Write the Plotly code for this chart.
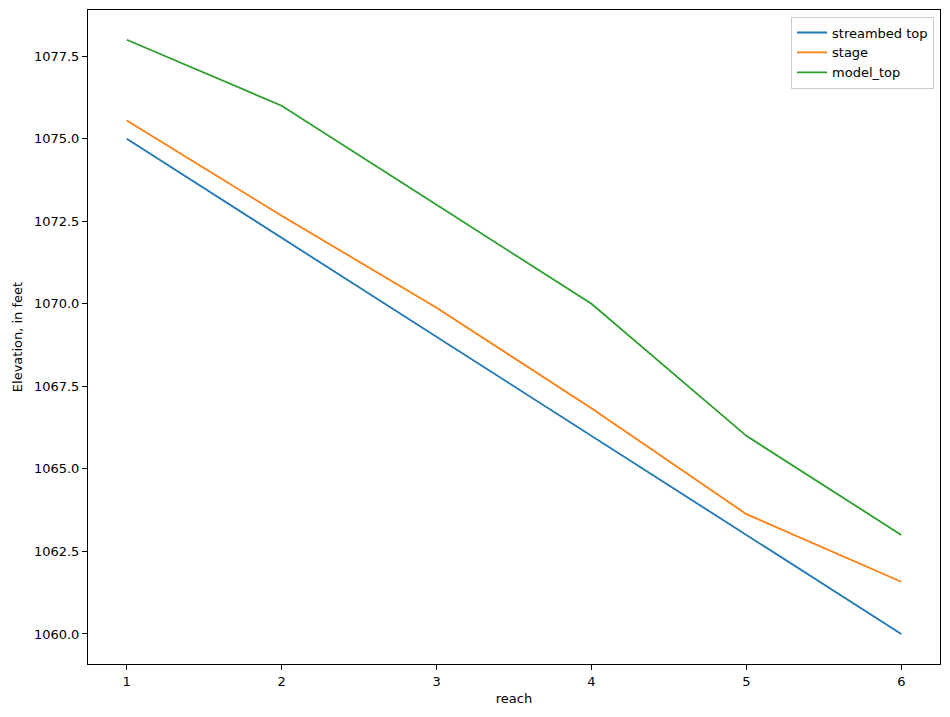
import plotly.graph_objects as go

reach = [1, 2, 3, 4, 5, 6]
streambed_top = [1075.0, 1072.0, 1069.0, 1066.0, 1063.0, 1060.0]
stage = [1075.55, 1072.67, 1069.88, 1066.84, 1063.63, 1061.58]
model_top = [1078.0, 1076.0, 1073.0, 1070.0, 1066.0, 1063.0]
y_ticks = [1060, 1062.5, 1065, 1067.5, 1070, 1072.5, 1075, 1077.5]
y_ticklabels = ["1060.0", "1062.5", "1065.0", "1067.5", "1070.0", "1072.5", "1075.0", "1077.5"]

series = [("streambed top", streambed_top, "#1f77b4"),
          ("stage", stage, "#ff7f0e"),
          ("model_top", model_top, "#2ca02c")]

fig = go.Figure()
for name, vals, color in series:
    fig.add_trace(go.Scatter(x=reach, y=vals, mode="lines", name=name,
                             line=dict(color=color, width=1.8)))

axis_common = dict(showline=True, linecolor="black", linewidth=1, mirror=True,
                   ticks="outside", ticklen=5, tickcolor="black", showgrid=False,
                   zeroline=False, tickfont=dict(size=13, color="black"))

fig.update_layout(
    width=934, height=701,
    margin=dict(l=80, r=2, t=2, b=45),
    paper_bgcolor="white", plot_bgcolor="white",
    font=dict(family="DejaVu Sans", size=13, color="black"),
    xaxis=dict(range=[0.75, 6.25], tickvals=reach,
               title=dict(text="reach", standoff=6, font=dict(size=13)),
               **axis_common),
    yaxis=dict(range=[1059.09, 1078.9], tickvals=y_ticks, ticktext=y_ticklabels,
               title=dict(text="Elevation, in feet", standoff=8, font=dict(size=13)),
               **axis_common),
    legend=dict(x=0.993, y=0.99, xanchor="right", yanchor="top",
                bordercolor="#cccccc", borderwidth=1, bgcolor="white",
                font=dict(size=13)),
    showlegend=True,
)

fig.write_html("out.html")
